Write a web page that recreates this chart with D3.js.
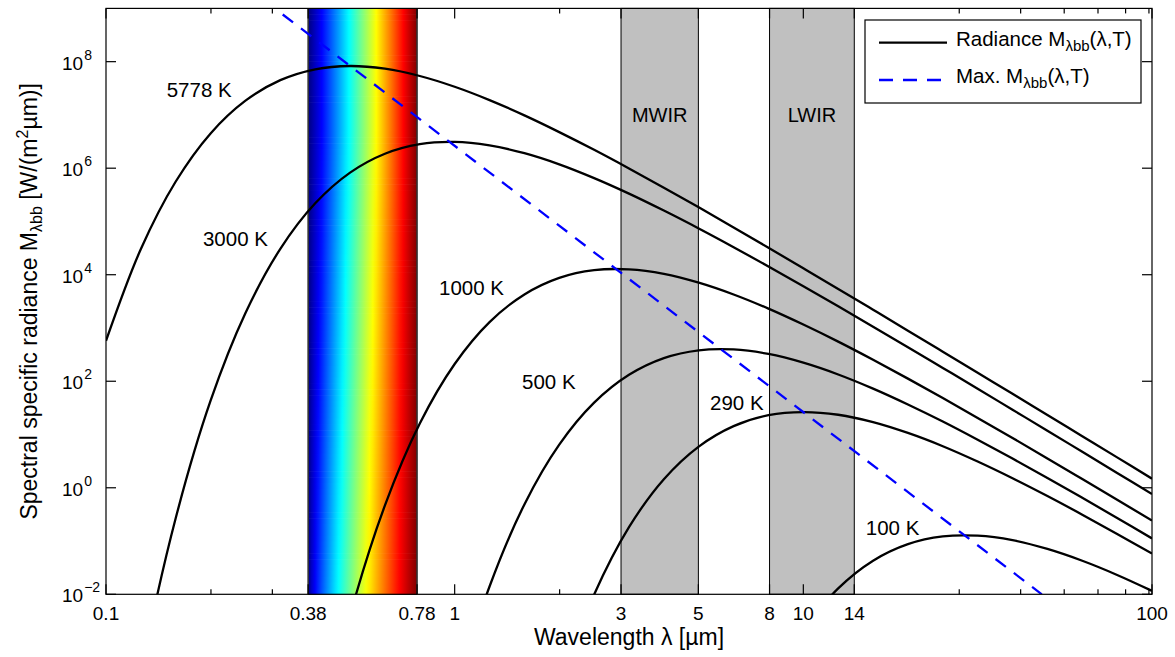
<!DOCTYPE html>
<html><head><meta charset="utf-8">
<script src="https://cdn.jsdelivr.net/npm/d3@7"></script>
<style>
body{margin:0;background:#fff}
svg{display:block}
text{font-family:"Liberation Sans",Arial,Helvetica,sans-serif;fill:#000}
</style>
</head><body>
<svg id="chart" width="1175" height="657"></svg>
<script>
// ---------- data ----------
const wavelengths = [0.1, 0.1259, 0.1585, 0.1995, 0.2512, 0.3162, 0.3981, 0.5012, 0.631, 0.7943,
  1, 1.259, 1.585, 1.995, 2.512, 3.162, 3.981, 5.012, 6.31, 7.943,
  10, 12.59, 15.85, 19.95, 25.12, 31.62, 39.81, 50.12, 63.1, 79.43, 100];
const temperatures = [5778, 3000, 1000, 500, 290, 100];
const radiance5778 = [574, 3.04e4, 5.62e5, 4.50e6, 1.85e7, 4.50e7, 7.20e7, 8.29e7, 7.37e7, 5.38e7,
  3.38e7, 1.90e7, 9.81e6, 4.76e6, 2.21e6, 9.88e5, 4.31e5, 1.84e5, 7.73e4, 3.21e4,
  1.32e4, 5.41e3, 2.20e3, 890, 359, 144, 58.0, 23.2, 9.30, 3.72, 1.48];
const radiance3000 = [5.55e-8, 3.37e-4, 0.270, 43.1, 1.91e3, 3.06e4, 2.19e5, 8.26e5, 1.87e6, 2.83e6,
  3.12e6, 2.68e6, 1.91e6, 1.18e6, 6.51e5, 3.33e5, 1.60e5, 7.38e4, 3.29e4, 1.43e4,
  6.08e3, 2.55e3, 1.06e3, 436, 178, 72.3, 29.2, 11.8, 4.74, 1.90, 0.762];
const radiance1000 = [null, null, null, null, null, 2.06e-9, 7.54e-6, 4.03e-3, 0.467, 16.1,
  211, 1.29e3, 4.27e3, 8.74e3, 1.22e4, 1.26e4, 1.04e4, 7.10e3, 4.26e3, 2.31e3,
  1.16e3, 554, 253, 112, 48.4, 20.5, 8.60, 3.56, 1.46, 0.596, 0.242];
const radiance500 = [null, null, null, null, null, null, null, null, null, 2.19e-7,
  1.19e-4, 1.40e-2, 0.487, 6.45, 39.6, 132, 272, 381, 395, 325,
  223, 134, 72.7, 36.6, 17.5, 7.97, 3.53, 1.53, 0.648, 0.271, 0.112];
const radiance290 = [null, null, null, null, null, null, null, null, null, null,
  null, null, 9.50e-7, 1.88e-4, 9.89e-3, 0.182, 1.45, 5.94, 14.4, 23.0,
  26.4, 23.5, 17.1, 10.7, 6.03, 3.11, 1.51, 0.700, 0.313, 0.136, 0.0582];
const radiance100 = [null, null, null, null, null, null, null, null, null, null,
  null, null, null, null, null, null, null, null, 4.67e-6, 1.61e-4,
  2.11e-3, 1.29e-2, 4.27e-2, 8.74e-2, 0.122, 0.126, 0.104, 0.0710, 0.0426, 0.0231, 0.0116];
const seriesRadiance = [radiance5778, radiance3000, radiance1000, radiance500, radiance290, radiance100];
// curve label anchors (wavelength, radiance)
const labelWavelength = [0.1493, 0.1897, 0.902, 1.56, 5.40, 15.1];
const labelRadiance = [2.17e7, 3.47e4, 4.17e3, 71.6, 28.9, 0.130];
// Wien maximum line
const maxWavelength = [0.3048, 48.30];
const maxRadiance = [1e9, 1e-2];
// spectral regions
const visibleBand = [0.38, 0.78];
const irBandNames = ["MWIR", "LWIR"];
const irBandFrom = [3, 8];
const irBandTo = [5, 14];
const irLabelRadiance = 7.47e6;
// axes
const xDomain = [0.1, 100];
const yDomain = [1e-2, 1e9];
const xMajorTicks = [0.1, 0.38, 0.78, 1, 3, 5, 8, 10, 14, 100];
const xTickLabels = ["0.1", "0.38", "0.78", "1", "3", "5", "8", "10", "14", "100"];
const xMinorTicks = [0.2, 0.3, 2, 28, 42, 56, 70, 84, 98];
const yTickExponents = [-2, 0, 2, 4, 6, 8];

// ---------- layout ----------
const L = 106, R = 1152, T = 8.4, B = 594.3;
const svg = d3.select("#chart");
const x = d3.scaleLog().domain(xDomain).range([L, R]);
const y = d3.scaleLog().domain(yDomain).range([B, T]);
const defs = svg.append("defs");
defs.append("clipPath").attr("id", "plotclip").append("rect")
  .attr("x", L).attr("y", T).attr("width", R - L).attr("height", B - T);

// ---------- visible spectrum band ----------
function jet(t) {
  const c = v => Math.max(0, Math.min(1, v));
  const r = c(1.5 - Math.abs(4 * t - 3)), g = c(1.5 - Math.abs(4 * t - 2)), b = c(1.5 - Math.abs(4 * t - 1));
  return d3.rgb(r * 255, g * 255, b * 255).toString();
}
const bx0 = x(visibleBand[0]), bx1 = x(visibleBand[1]);
const nRows = 100, rowH = (B - T) / nRows;
const bandG = svg.append("g");
for (let i = 0; i < nRows; i++) {
  const y0 = T + i * rowH, yc = y0 + rowH / 2;
  const p = yc < 130 ? 1 : 1 - 0.24 * (yc - 130) / (B - 130);
  const gid = "jet" + i;
  const grad = defs.append("linearGradient").attr("id", gid)
    .attr("x1", 0).attr("x2", 1).attr("y1", 0).attr("y2", 0);
  for (let k = 0; k <= 32; k++) {
    const u = k / 32;
    grad.append("stop").attr("offset", u).attr("stop-color", jet(Math.pow(u, p)));
  }
  bandG.append("rect").attr("x", bx0).attr("y", y0).attr("width", bx1 - bx0)
    .attr("height", rowH + 0.6).attr("fill", `url(#${gid})`);
}
bandG.selectAll("line.edge").data(visibleBand).join("line")
  .attr("x1", d => x(d)).attr("x2", d => x(d)).attr("y1", T).attr("y2", B)
  .attr("stroke", "#333").attr("stroke-width", 1.6);

// ---------- IR bands ----------
svg.append("g").selectAll("rect").data(irBandNames).join("rect")
  .attr("x", (d, i) => x(irBandFrom[i])).attr("y", T)
  .attr("width", (d, i) => x(irBandTo[i]) - x(irBandFrom[i])).attr("height", B - T)
  .attr("fill", "#c0c0c0").attr("stroke", "#000").attr("stroke-width", 1);
svg.append("g").selectAll("text").data(irBandNames).join("text")
  .attr("x", (d, i) => (x(irBandFrom[i]) + x(irBandTo[i])) / 2)
  .attr("y", y(irLabelRadiance)).attr("text-anchor", "middle").attr("font-size", 20)
  .text(d => d);

// ---------- curves ----------
const line = d3.line()
  .x(d => x(d[0])).y(d => y(d[1]))
  .curve(d3.curveCatmullRom.alpha(0.5));
const plotG = svg.append("g").attr("clip-path", "url(#plotclip)");
seriesRadiance.forEach(vals => {
  const pts = wavelengths.map((w, i) => [w, vals[i]]).filter(d => d[1] != null);
  plotG.append("path").attr("d", line(pts)).attr("fill", "none")
    .attr("stroke", "#000").attr("stroke-width", 2.3).attr("stroke-linejoin", "round");
});
plotG.append("path")
  .attr("d", d3.line().x(d => x(d[0])).y(d => y(d[1]))(maxWavelength.map((w, i) => [w, maxRadiance[i]])))
  .attr("fill", "none").attr("stroke", "#0000ff").attr("stroke-width", 2.3)
  .attr("stroke-dasharray", "13,10").attr("stroke-dashoffset", 13);

// curve labels
svg.append("g").selectAll("text").data(temperatures).join("text")
  .attr("x", (d, i) => x(labelWavelength[i])).attr("y", (d, i) => y(labelRadiance[i]))
  .attr("font-size", 20.5).text(d => d + " K");

// ---------- axes ----------
const axG = svg.append("g").attr("stroke", "#000").attr("stroke-width", 1.2);
axG.append("rect").attr("x", L).attr("y", T).attr("width", R - L).attr("height", B - T).attr("fill", "none");
const tickLines = (vals, len, horiz) => {
  vals.forEach(v => {
    if (horiz) {
      const px = x(v);
      axG.append("line").attr("x1", px).attr("x2", px).attr("y1", B).attr("y2", B - len);
      axG.append("line").attr("x1", px).attr("x2", px).attr("y1", T).attr("y2", T + len);
    } else {
      const py = y(v);
      axG.append("line").attr("y1", py).attr("y2", py).attr("x1", L).attr("x2", L + len);
      axG.append("line").attr("y1", py).attr("y2", py).attr("x1", R).attr("x2", R - len);
    }
  });
};
tickLines(xMajorTicks, 10, true);
tickLines(xMinorTicks, 5, true);
tickLines(yTickExponents.map(e => Math.pow(10, e)), 10, false);

svg.append("g").selectAll("text").data(xMajorTicks).join("text")
  .attr("x", d => x(d)).attr("y", 620).attr("text-anchor", "middle").attr("font-size", 19)
  .text((d, i) => xTickLabels[i]);
const yl = svg.append("g").selectAll("text").data(yTickExponents).join("text")
  .attr("x", 62).attr("y", d => y(Math.pow(10, d)) + 8).attr("font-size", 19);
yl.append("tspan").text("10");
yl.append("tspan").attr("dy", -10).attr("dx", 1).attr("font-size", 14)
  .text(d => d < 0 ? "\u2212" + (-d) : String(d));

// axis titles
const xt = svg.append("text").attr("x", (L + R) / 2).attr("y", 645).attr("text-anchor", "middle").attr("font-size", 23);
xt.text("Wavelength \u03bb [\u00b5m]");
const yt = svg.append("text").attr("transform", `translate(37,${(T + B) / 2}) rotate(-90)`)
  .attr("text-anchor", "middle").attr("font-size", 23);
yt.append("tspan").text("Spectral specific radiance M");
yt.append("tspan").attr("dy", 5).attr("font-size", 16).text("\u03bbbb");
yt.append("tspan").attr("dy", -5).text(" [W/(m");
yt.append("tspan").attr("dy", -9).attr("font-size", 16).text("2");
yt.append("tspan").attr("dy", 9).text("\u00b5m)]");

// ---------- legend ----------
const lg = svg.append("g");
lg.append("rect").attr("x", 865).attr("y", 20).attr("width", 276).attr("height", 83)
  .attr("fill", "#fff").attr("stroke", "#000").attr("stroke-width", 1.2);
const legendItems = [
  {label: "Radiance M", color: "#000", dash: null},
  {label: "Max. M", color: "#0000ff", dash: "14,10"}
];
legendItems.forEach((it, i) => {
  const ly = 42.7 + i * 37.3;
  lg.append("line").attr("x1", 879).attr("x2", 947).attr("y1", ly).attr("y2", ly)
    .attr("stroke", it.color).attr("stroke-width", 2.3).attr("stroke-dasharray", it.dash);
  const t = lg.append("text").attr("x", 956).attr("y", ly + 3.2).attr("font-size", 20.5);
  t.append("tspan").text(it.label);
  t.append("tspan").attr("dy", 5).attr("font-size", 15).text("\u03bbbb");
  t.append("tspan").attr("dy", -5).text("(\u03bb,T)");
});
</script>
</body></html>
